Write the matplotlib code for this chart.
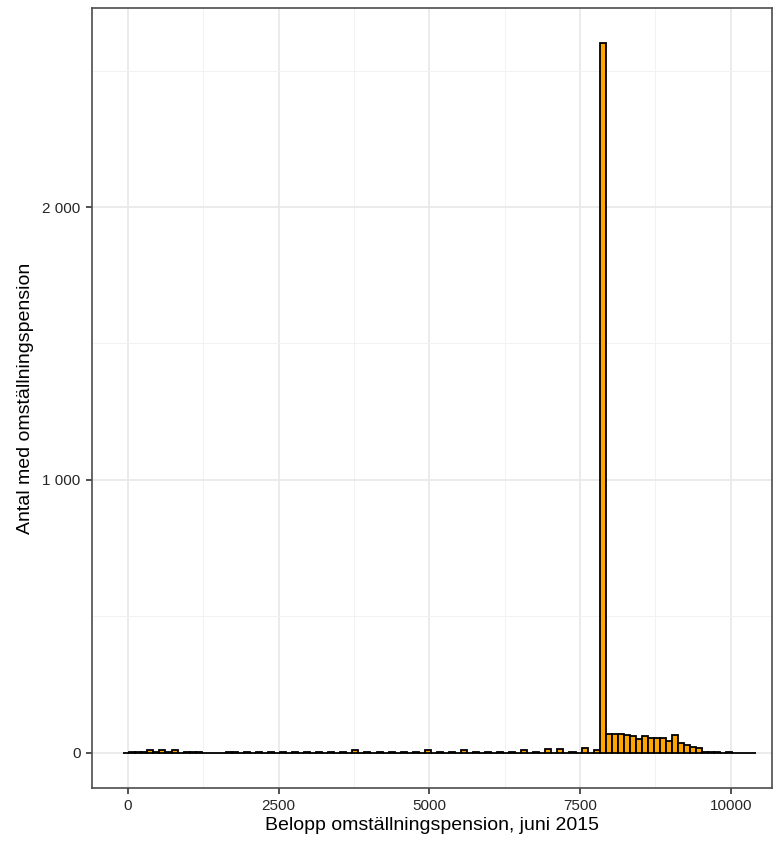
import matplotlib.pyplot as plt
import numpy as np
from matplotlib.ticker import FuncFormatter

# Histogramdata: bin-kanter (bredd 100) och antal per bin
bin_start = -75
bin_width = 100
counts = [
    0, 3, 3, 3, 10, 3, 10, 3, 10, 0,
    3, 3, 3, 0, 0, 0, 0, 3, 3, 0,
    3, 0, 3, 0, 3, 0, 3, 0, 3, 0,
    3, 0, 3, 0, 3, 0, 3, 0, 10, 0,
    3, 0, 3, 0, 3, 0, 3, 0, 3, 0,
    10, 0, 3, 0, 3, 0, 10, 0, 3, 0,
    3, 0, 3, 0, 3, 0, 10, 0, 3, 0,
    12, 0, 12, 0, 3, 0, 16, 0, 10, 2600,
    67, 67, 67, 65, 59, 49, 59, 54, 54, 54,
    41, 63, 34, 26, 22, 16, 3, 3, 3, 0,
    3, 0, 0, 0, 0,
]
x_ticks = [0, 2500, 5000, 7500, 10000]
y_ticks = [0, 1000, 2000]

edges = bin_start + bin_width * np.arange(len(counts))

plt.rcParams['font.family'] = ['Liberation Sans', 'DejaVu Sans']

fig = plt.figure(figsize=(7.78, 8.46), dpi=100)
ax = fig.add_axes([0.118, 0.0686, 0.874, 0.9219])

ax.bar(edges, counts, width=bin_width, align='edge',
       color='#FFA500', edgecolor='black', linewidth=1.3, zorder=3)

ax.set_xlim(-597, 10680)
ax.set_ylim(-130, 2730)

# rutnät som i theme_bw
ax.set_xticks(x_ticks)
ax.set_yticks(y_ticks)
ax.set_xticks([1250, 3750, 6250, 8750], minor=True)
ax.set_yticks([500, 1500, 2500], minor=True)
ax.grid(True, which='major', color='#E8E8E8', linewidth=1.2, zorder=0)
ax.grid(True, which='minor', color='#F2F2F2', linewidth=0.7, zorder=0)
ax.tick_params(which='minor', length=0)
ax.tick_params(which='major', length=4, width=1.2, color='#333333',
               labelsize=11, labelcolor='#262626', pad=4)

ax.yaxis.set_major_formatter(FuncFormatter(lambda v, p: f'{int(v):,}'.replace(',', ' ')))

for s in ax.spines.values():
    s.set_color('#4D4D4D')
    s.set_linewidth(1.2)

ax.set_xlabel('Belopp omställningspension, juni 2015', fontsize=14, labelpad=3)
ax.set_ylabel('Antal med omställningspension', fontsize=14, labelpad=6)

fig.savefig('out.png', dpi=100)
